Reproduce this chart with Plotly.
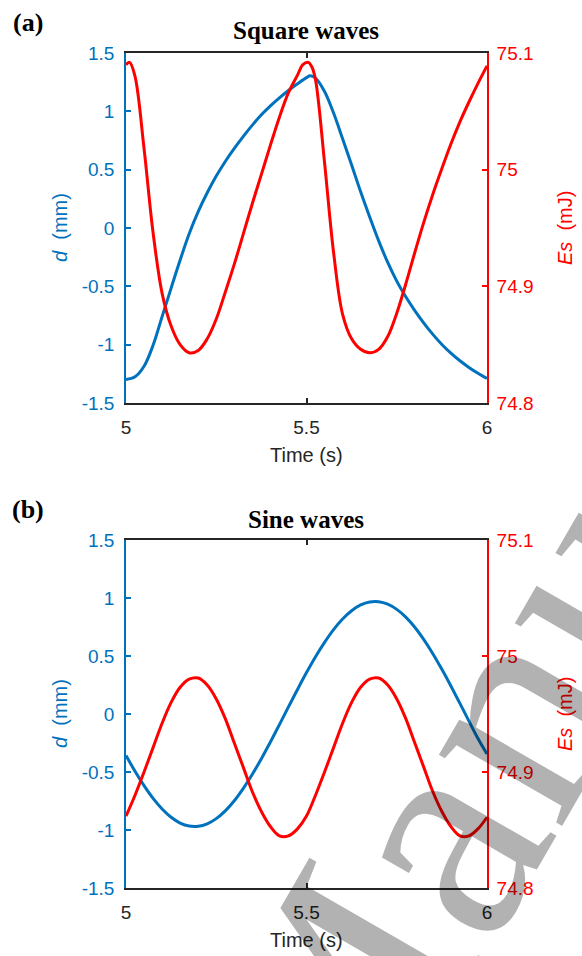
import plotly.graph_objects as go

# ---------------- data ----------------
# (a) Square waves
sq_d_time = [5.000, 5.025, 5.050, 5.075, 5.100, 5.125, 5.150, 5.175, 5.200, 5.225,
             5.250, 5.275, 5.300, 5.325, 5.350, 5.375, 5.400, 5.425, 5.450, 5.475,
             5.500, 5.510, 5.525, 5.550, 5.575, 5.600, 5.625, 5.650, 5.675, 5.700,
             5.725, 5.750, 5.775, 5.800, 5.825, 5.850, 5.875, 5.900, 5.925, 5.950,
             5.975, 6.000]
sq_d = [-1.298, -1.275, -1.185, -1.005, -0.760, -0.515, -0.275, -0.050, 0.140, 0.302,
        0.445, 0.570, 0.682, 0.786, 0.882, 0.970, 1.047, 1.116, 1.179, 1.236,
        1.289, 1.304, 1.285, 1.170, 0.985, 0.765, 0.540, 0.310, 0.095, -0.110,
        -0.295, -0.455, -0.590, -0.708, -0.815, -0.912, -0.998, -1.073, -1.138, -1.195,
        -1.245, -1.290]

sq_es_time = [5.000, 5.010, 5.025, 5.050, 5.075, 5.100, 5.125, 5.150, 5.175, 5.200,
              5.225, 5.250, 5.275, 5.300, 5.325, 5.350, 5.375, 5.400, 5.425, 5.450,
              5.475, 5.490, 5.505, 5.515, 5.525, 5.550, 5.575, 5.600, 5.625, 5.650,
              5.675, 5.700, 5.725, 5.750, 5.775, 5.800, 5.825, 5.850, 5.875, 5.900,
              5.925, 5.950, 5.975, 6.000]
sq_es = [75.090, 75.092, 75.080, 75.018, 74.946, 74.894, 74.866, 74.850, 74.843, 74.845,
         74.855, 74.872, 74.895, 74.919, 74.945, 74.971, 74.996, 75.021, 75.045, 75.066,
         75.081, 75.090, 75.092, 75.088, 75.077, 75.006, 74.929, 74.876, 74.855, 74.846,
         74.843, 74.846, 74.857, 74.877, 74.902, 74.929, 74.955, 74.979, 75.001, 75.022,
         75.041, 75.058, 75.074, 75.089]

# (b) Sine waves
sine_time = [5.000, 5.025, 5.050, 5.075, 5.100, 5.125, 5.150, 5.175, 5.200, 5.225,
             5.250, 5.275, 5.300, 5.325, 5.350, 5.375, 5.400, 5.425, 5.450, 5.475,
             5.500, 5.525, 5.550, 5.575, 5.600, 5.625, 5.650, 5.675, 5.700, 5.725,
             5.750, 5.775, 5.800, 5.825, 5.850, 5.875, 5.900, 5.925, 5.950, 5.975, 6.000]
sine_d = [-0.357, -0.494, -0.618, -0.728, -0.819, -0.890, -0.940, -0.966, -0.968, -0.947,
          -0.902, -0.835, -0.748, -0.641, -0.520, -0.385, -0.242, -0.091, 0.061, 0.211,
          0.357, 0.494, 0.618, 0.728, 0.819, 0.890, 0.940, 0.966, 0.968, 0.947,
          0.902, 0.835, 0.748, 0.641, 0.520, 0.385, 0.242, 0.091, -0.061, -0.211, -0.345]
sine_es = [74.862, 74.880, 74.900, 74.921, 74.942, 74.960, 74.973, 74.980, 74.981, 74.975,
           74.963, 74.946, 74.925, 74.904, 74.883, 74.866, 74.853, 74.845, 74.845, 74.851,
           74.862, 74.880, 74.900, 74.921, 74.942, 74.960, 74.973, 74.980, 74.981, 74.975,
           74.963, 74.946, 74.925, 74.904, 74.883, 74.866, 74.853, 74.845, 74.845, 74.851,
           74.861]

x_ticks = [5, 5.5, 6]
x_ticktext = ["5", "5.5", "6"]
d_ticks = [-1.5, -1, -0.5, 0, 0.5, 1, 1.5]
d_ticktext = ["-1.5", "-1", "-0.5", "0", "0.5", "1", "1.5"]
es_ticks = [74.8, 74.9, 75.0, 75.1]
es_ticktext = ["74.8", "74.9", "75", "75.1"]

# ---------------- styling ----------------
W, H = 582, 956
BLUE = "#0072BD"
RED = "#FF0000"
DARK = "#262626"
SANS = "Liberation Sans, Arial, sans-serif"
SERIF = "Liberation Serif, Times New Roman, serif"


def px(x):
    return x / W


def py(y):
    return 1 - y / H


fig = go.Figure()
LINE = dict(width=3, shape="spline", smoothing=1.0)
fig.add_trace(go.Scatter(x=sq_d_time, y=sq_d, mode="lines", xaxis="x", yaxis="y",
                         line=dict(color=BLUE, **LINE)))
fig.add_trace(go.Scatter(x=sq_es_time, y=sq_es, mode="lines", xaxis="x", yaxis="y2",
                         line=dict(color=RED, **LINE)))
fig.add_trace(go.Scatter(x=sine_time, y=sine_d, mode="lines", xaxis="x2", yaxis="y3",
                         line=dict(color=BLUE, **LINE)))
fig.add_trace(go.Scatter(x=sine_time, y=sine_es, mode="lines", xaxis="x2", yaxis="y4",
                         line=dict(color=RED, **LINE)))

xdom = [px(126), px(487)]
top_dom = [py(403), py(53)]
bot_dom = [py(888), py(540)]

xcommon = dict(range=[5, 6], tickvals=x_ticks, ticktext=x_ticktext, ticks="inside", ticklen=5,
               tickwidth=1.5, tickcolor=DARK, showline=True, linecolor=DARK, linewidth=1.6,
               mirror="ticks", showgrid=False, zeroline=False, domain=xdom,
               tickfont=dict(family=SANS, size=19, color=DARK), ticklabelstandoff=6)
dcommon = dict(range=[-1.5, 1.5], tickvals=d_ticks, ticktext=d_ticktext, ticks="inside", ticklen=5,
               tickwidth=1.5, tickcolor=BLUE, showline=True, linecolor=BLUE, linewidth=1.6,
               showgrid=False, zeroline=False,
               tickfont=dict(family=SANS, size=19, color=BLUE), ticklabelstandoff=6)
ecommon = dict(range=[74.8, 75.1], tickvals=es_ticks, ticktext=es_ticktext, ticks="inside", ticklen=5,
               tickwidth=1.5, tickcolor=RED, showline=True, linecolor=RED, linewidth=1.6,
               showgrid=False, zeroline=False, side="right",
               tickfont=dict(family=SANS, size=19, color=RED), ticklabelstandoff=4)

fig.update_layout(
    width=W, height=H, margin=dict(l=0, r=0, t=0, b=0),
    paper_bgcolor="white", plot_bgcolor="white", showlegend=False, template=None,
    xaxis=dict(anchor="y", **xcommon),
    yaxis=dict(anchor="x", domain=top_dom, **dcommon),
    yaxis2=dict(anchor="x", overlaying="y", **ecommon),
    xaxis2=dict(anchor="y3", **xcommon),
    yaxis3=dict(anchor="x2", domain=bot_dom, **dcommon),
    yaxis4=dict(anchor="x2", overlaying="y3", **ecommon),
)

ann = []


def text(t, x, y, size, color=DARK, family=SANS, angle=0, bold=False):
    ann.append(dict(text=f"<b>{t}</b>" if bold else t, x=px(x), y=py(y), xref="paper", yref="paper",
                    showarrow=False, xanchor="center", yanchor="middle", textangle=angle,
                    font=dict(family=family, size=size, color=color)))


# panel labels and titles
text("(a)", 28, 23, 26, color="black", family=SERIF, bold=True)
text("Square waves", 306, 30, 25, color="black", family=SERIF, bold=True)
text("(b)", 28, 509, 26, color="black", family=SERIF, bold=True)
text("Sine waves", 306, 519, 25, color="black", family=SERIF, bold=True)

# axis titles
for cy, ty in [(228, 455), (714, 940)]:
    text("<i>d</i>\u00a0 (mm)", 60, cy, 20, color=BLUE, angle=-90)
    text("<i>Es</i>\u00a0 (mJ)", 565, cy, 20, color=RED, angle=-90)
    text("Time (s)", 306, ty, 20, color=DARK)

# watermark
ann.append(dict(text="Manus", x=px(472), y=py(772), xref="paper", yref="paper", showarrow=False,
                xanchor="center", yanchor="middle", textangle=-60,
                font=dict(family=SERIF, size=310, color="rgba(0,0,0,0.3)")))

fig.update_layout(annotations=ann)
fig.write_html("out.html")
